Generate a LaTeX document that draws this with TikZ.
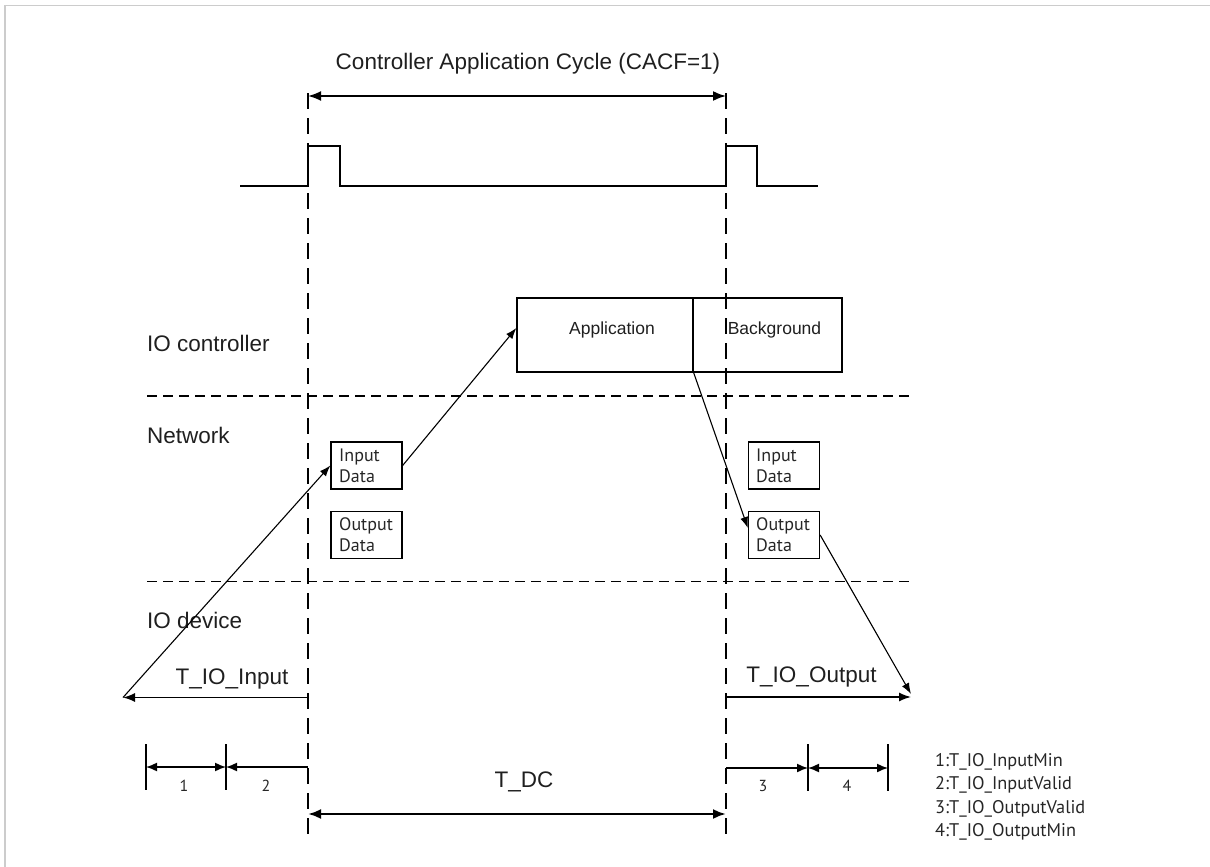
\documentclass[tikz,border=0pt]{standalone}
\usepackage{fontspec}
\setmainfont{Liberation Sans}
\newfontfamily\myr{PT Sans}
\usetikzlibrary{arrows.meta}
\begin{document}
\begin{tikzpicture}[x=1pt,y=-1pt,
  bigtxt/.style={font=\fontsize{22.5}{27}\selectfont, text=black!88, inner sep=0pt},
  midtxt/.style={font=\fontsize{17.5}{21}\selectfont, text=black!88, inner sep=0pt},
  datatxt/.style={font=\myr\fontsize{18}{21}\selectfont, text=black!85, align=left, inner sep=0pt, anchor=west},
  numtxt/.style={font=\myr\fontsize{16}{19}\selectfont, text=black!85, inner sep=0pt},
  legtxt/.style={font=\myr\fontsize{18.3}{21}\selectfont, text=black!85, inner sep=0pt, anchor=west},
  cycdash/.style={line width=2.4pt, dash pattern=on 16pt off 9pt},
  laydash/.style={line width=1.3pt, dash pattern=on 10pt off 6pt},
  box/.style={draw, line width=1.3pt, inner sep=0pt},
  databox/.style={draw, line width=1.3pt, minimum width=71pt, minimum height=47pt, inner sep=0pt},
  bigarr/.style={line width=1.8pt, {Latex[length=13pt,width=10pt]}-{Latex[length=13pt,width=10pt]}},
  thinarr/.style={line width=1.1pt, -{Latex[length=11pt,width=8pt]}},
  dimarr/.style={line width=1.5pt, >={Latex[length=11pt,width=9pt]}}
]
\useasboundingbox (0,0) rectangle (1210,867);
\draw[black!20, line width=1.5pt] (1210,5.5) -- (5,5.5) -- (5,867);

% cycle boundaries
\coordinate (lt) at (308,93);
\coordinate (lb) at (308,838);
\coordinate (rt) at (726,93);
\coordinate (rb) at (726,838);
\draw[cycdash] (lt) -- (lb);
\draw[cycdash] (rt) -- (rb);

% title and cycle arrow
\node[bigtxt] (title) at (528,64) {Controller Application Cycle (CACF=1)};
\coordinate (cycl) at (308,96);
\coordinate (cycr) at (726,96);
\draw[bigarr] (cycl) -- (cycr);

% pulse train
\draw[line width=2pt] (240,186) -- (308,186) -- (308,146) -- (340,146) -- (340,186)
  -- (726,186) -- (726,146) -- (757,146) -- (757,186) -- (818,186);

% layer separators
\coordinate (s1l) at (147,396);
\coordinate (s1r) at (913,396);
\coordinate (s2l) at (147,581.5);
\coordinate (s2r) at (913,581.5);
\draw[laydash] (s1l) -- (s1r);
\draw[laydash] (s2l) -- (s2r);

% layer labels
\node[bigtxt, anchor=west] (ioc) at (147,343) {IO controller};
\node[bigtxt, anchor=west] (net) at (147,435) {Network};
\node[bigtxt, anchor=west] (iod) at (147,620) {IO device};

% controller boxes
\node[box, minimum width=176pt, minimum height=74pt] (app) at (605,335) {};
\node[midtxt] (appt) at (612,330) {Application};
\node[box, minimum width=149pt, minimum height=74pt] (bg) at (767.5,335) {};
\node[midtxt] (bgt) at (774.5,330) {Background};

% network data boxes
\node[databox] (inL) at (366.5,465.5) {};
\node[datatxt] (inLt) at (339,465.5) {Input\\Data};
\node[databox] (outL) at (366.5,535) {};
\node[datatxt] (outLt) at (339,535) {Output\\Data};
\node[databox] (inR) at (784,465.5) {};
\node[datatxt] (inRt) at (756,465.5) {Input\\Data};
\node[databox] (outR) at (784,535) {};
\node[datatxt] (outRt) at (756,535) {Output\\Data};

% IO timing arrows
\coordinate (tin) at (123,697.5);
\coordinate (tinr) at (308,697.5);
\coordinate (toutl) at (726,697);
\coordinate (tout) at (911,697);
\draw[line width=1.5pt, {Latex[length=12pt,width=9pt]}-] (tin) -- (tinr);
\draw[line width=1.5pt, -{Latex[length=12pt,width=9pt]}] (toutl) -- (tout);
\node[bigtxt] (tinlab) at (232,679) {T\_IO\_Input};
\node[bigtxt] (toutlab) at (811.5,677) {T\_IO\_Output};

% data flow
\draw[thinarr] (tin) -- (inL.west);
\draw[thinarr] (inL.east) -- ([yshift=7pt]app.west);
\draw[thinarr] (app.south east) -- ([yshift=7pt]outR.west);
\draw[thinarr] (outR.east) -- ([yshift=3pt]tout);

% dimension ticks
\coordinate (k1t) at (146,744); \coordinate (k1b) at (146,790);
\coordinate (k2t) at (226,744); \coordinate (k2b) at (226,790);
\coordinate (k3t) at (808,744); \coordinate (k3b) at (808,791);
\coordinate (k4t) at (888,744); \coordinate (k4b) at (888,791);
\draw[line width=1.5pt] (k1t) -- (k1b);
\draw[line width=1.5pt] (k2t) -- (k2b);
\draw[line width=1.5pt] (k3t) -- (k3b);
\draw[line width=1.5pt] (k4t) -- (k4b);

\coordinate (d1) at (146,767); \coordinate (d2) at (226,767); \coordinate (d2r) at (308,767);
\coordinate (d3l) at (726,768); \coordinate (d3) at (808,768); \coordinate (d4) at (888,768);
\draw[dimarr, <->] (d1) -- (d2);
\draw[dimarr, <-] (d2) -- (d2r);
\draw[dimarr, ->] (d3l) -- (d3);
\draw[dimarr, <->] (d3) -- (d4);
\node[numtxt] (n1) at (184,786) {1};
\node[numtxt] (n2) at (266,786) {2};
\node[numtxt] (n3) at (763,786) {3};
\node[numtxt] (n4) at (847,786) {4};

% T_DC
\coordinate (dcl) at (308,814);
\coordinate (dcr) at (726,814);
\draw[line width=2.4pt, {Latex[length=13pt,width=10pt]}-{Latex[length=13pt,width=10pt]}] (dcl) -- (dcr);
\node[bigtxt] (tdc) at (524,782) {T\_DC};

% legend
\node[legtxt] (lg1) at (935,762) {1:T\_IO\_InputMin};
\node[legtxt] (lg2) at (935,785) {2:T\_IO\_InputValid};
\node[legtxt] (lg3) at (935,808.5) {3:T\_IO\_OutputValid};
\node[legtxt] (lg4) at (935,832) {4:T\_IO\_OutputMin};
\end{tikzpicture}
\end{document}
